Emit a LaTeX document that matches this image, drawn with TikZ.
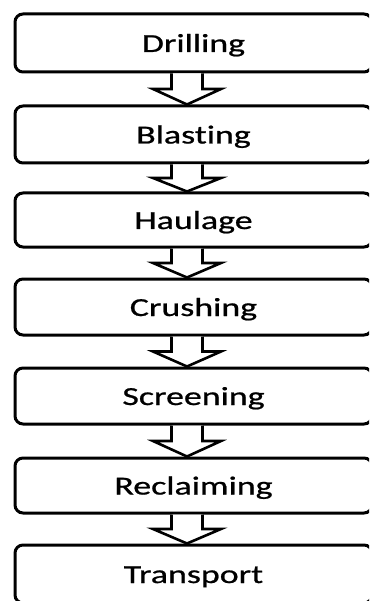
\documentclass[tikz,border=0pt]{standalone}
\usepackage{fontspec}
\setmainfont{Carlito}[FakeStretch=1.38, FakeBold=0.8, Ligatures={NoCommon, NoRequired, NoContextual}]
\usetikzlibrary{calc}

\tikzset{
  stepbox/.style={draw=black, line width=3pt, rounded corners=8pt,
    minimum width=357pt, inner sep=0pt, text height=18pt, text depth=0pt,
    font=\fontsize{26}{30}\selectfont},
  blockarrow/.style={draw=black, fill=white, line width=2.6pt, line join=miter}
}

% hollow block arrow from the bottom of one box to the top of the next
\newcommand\flowarrow[2]{%
  \draw[blockarrow]
    ($(#1.south)+(-22,0)$) --
    ($(#1.south)!0.5!(#2.north)+(-22,0)$) --
    ($(#1.south)!0.5!(#2.north)+(-40.5,0)$) --
    ($(#2.north)+(-6.5,0)$) --
    ($(#1.south)!0.5!(#2.north)+(27.5,0)$) --
    ($(#1.south)!0.5!(#2.north)+(9,0)$) --
    ($(#1.south)+(9,0)$);
}

\begin{document}
\begin{tikzpicture}[x=1pt, y=-1pt]
  \useasboundingbox (0,0) rectangle (369,601);
  \begin{scope}
    \clip (0,0) rectangle (369,601);

    \node[stepbox, minimum height=58pt] (drill)  at (193.5,43)    {Drilling};
    \node[stepbox, minimum height=57pt] (blast)  at (193.5,134.5) {Blasting};
    \node[stepbox, minimum height=54pt] (haul)   at (193.5,220)   {Haulage};
    \node[stepbox, minimum height=56pt] (crush)  at (193.5,307)   {Crushing};
    \node[stepbox, minimum height=56pt] (screen) at (193.5,396)   {Screening};
    \node[stepbox, minimum height=55pt] (reclaim) at (193.5,485.5) {Reclaiming};
    \node[stepbox, minimum height=58pt] (trans)  at (193.5,574)   {Transport};

    \flowarrow{drill}{blast}
    \flowarrow{blast}{haul}
    \flowarrow{haul}{crush}
    \flowarrow{crush}{screen}
    \flowarrow{screen}{reclaim}
    \flowarrow{reclaim}{trans}
  \end{scope}
\end{tikzpicture}
\end{document}
